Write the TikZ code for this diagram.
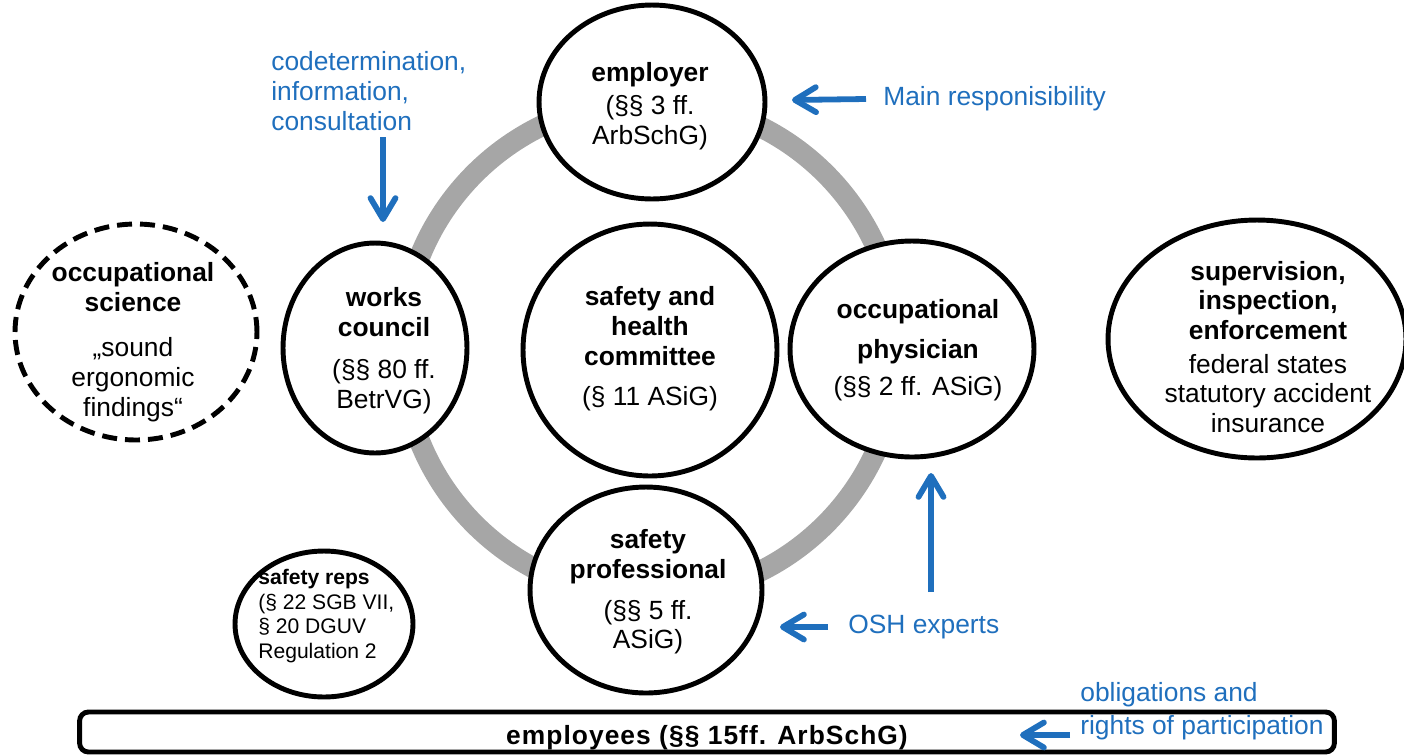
\documentclass[tikz,border=0pt]{standalone}
\usepackage{fontspec}
\setmainfont{Liberation Sans}
\usetikzlibrary{arrows.meta,positioning,shapes.geometric}

\definecolor{oshblue}{RGB}{31,111,189}
\definecolor{ringgray}{RGB}{166,166,166}

\begin{document}
\begin{tikzpicture}[
    x=0.02cm,y=-0.02cm,
    every node/.style={font=\fontsize{15}{17}\selectfont},
    actor/.style={draw,ellipse,line width=2.8pt,fill=white,inner sep=0pt},
    lbl/.style={align=center,inner sep=0pt},
    note/.style={text=oshblue,align=left,inner sep=0pt,anchor=west},
    arr/.style={oshblue,line width=3.3pt,-{Straight Barb[length=4.2mm,width=5mm,round]}}
]
\useasboundingbox (0,0) rectangle (1404,755);

% ring behind the actors
\draw[ringgray,line width=0.42cm] (650,349) circle[radius=248];

% actors
\node[actor,minimum width=4.52cm,minimum height=3.88cm] (emp) at (652,102) {};
\node[actor,minimum width=5.08cm,minimum height=5.04cm] (shc) at (650,350) {};
\node[actor,minimum width=3.68cm,minimum height=4.2cm] (wc) at (375,348) {};
\node[actor,minimum width=4.88cm,minimum height=4.32cm] (phys) at (912,349) {};
\node[actor,minimum width=4.64cm,minimum height=4.12cm] (sp) at (646,590) {};
\node[actor,dashed,dash pattern=on 0.3cm off 0.16cm,minimum width=4.84cm,minimum height=4.32cm] (sci) at (136,332) {};
\node[actor,minimum width=5.96cm,minimum height=4.76cm] (sup) at (1257,339) {};
\node[actor,minimum width=3.56cm,minimum height=2.92cm] (reps) at (324,624) {};
\node[draw,line width=2.8pt,rounded corners=5pt,minimum width=25.1cm,minimum height=0.8cm] (staff) at (707,732) {};

% texts
\node[lbl] (empt) at (650,106) {\textbf{employer}\\[2pt](§§ 3 ff.\\ArbSchG)};
\node[lbl] (wct) at (384,351) {\textbf{works}\\\textbf{council}\\[7pt](§§ 80 ff.\\BetrVG)};
\node[lbl] (shct) at (650,349) {\textbf{safety and}\\\textbf{health}\\\textbf{committee}\\[6pt](§ 11 ASiG)};
\node[lbl] (physt) at (918,350) {\textbf{occupational}\\[6pt]\textbf{physician}\\[4pt](§§ 2 ff. ASiG)};
\node[lbl] (spt) at (648,592) {\textbf{safety}\\\textbf{professional}\\[6pt](§§ 5 ff.\\ASiG)};
\node[lbl] (scit) at (133,342) {\textbf{occupational}\\\textbf{science}\\[9pt]„sound\\ergonomic\\findings“};
\node[lbl] (supt) at (1268,347) {\textbf{supervision,}\\\textbf{inspection,}\\\textbf{enforcement}\\[2pt]federal states\\statutory accident\\insurance};
\node[lbl,align=left,anchor=west,font=\fontsize{12}{14}\selectfont] (repst) at (258,616) {\textbf{safety reps}\\(§ 22 SGB VII,\\§ 20 DGUV\\Regulation 2};
\node[lbl,font=\fontsize{15}{17}\selectfont\bfseries\addfontfeature{LetterSpace=4}] (stafft) at (707,738) {employees (§§ 15ff. ArbSchG)};

% blue notes
\node[note] (codet) at (271,91) {codetermination,\\information,\\consultation};
\node[note] (resp) at (883,99) {Main responisibility};
\node[note] (osh) at (848,627) {OSH experts};
\node[note] (oblig) at (1080,711) {obligations and\\[1.5pt]rights of participation};

\coordinate (codetend) at (383,222);
\coordinate (respend) at (792,100);
\coordinate (physend) at (931,473);
\coordinate (spend) at (780,627);
\coordinate (staffend) at (1020,735);

\draw[arr] (383,137) -- (codetend);
\draw[arr] (resp.west) ++(-17,0) -- (respend);
\draw[arr] (931,592) -- (physend);
\draw[arr] (osh.west) ++(-20,0) -- (spend);
\draw[arr] (oblig.west |- staffend) ++(-10,0) -- (staffend);
\end{tikzpicture}
\end{document}
